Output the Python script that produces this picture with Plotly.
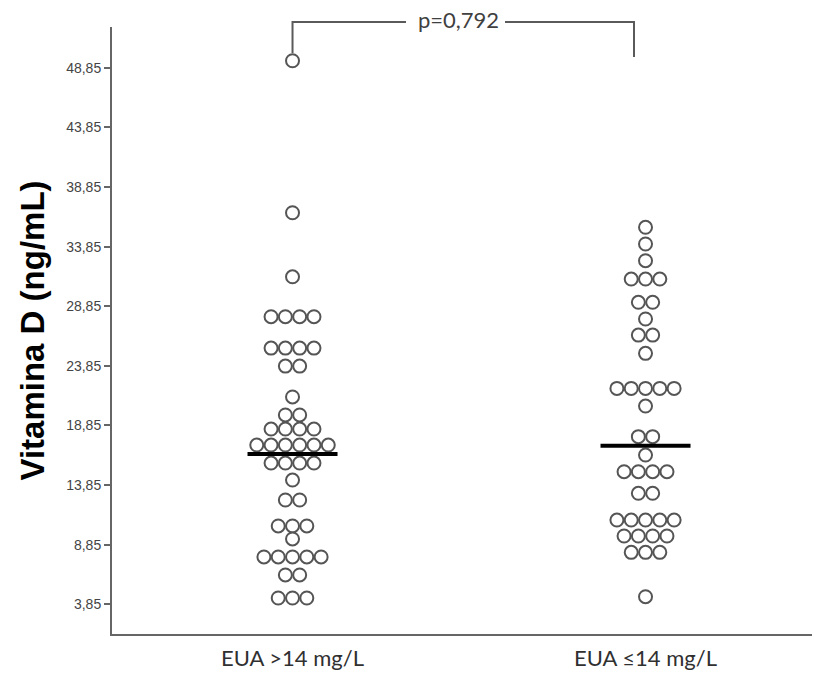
import plotly.graph_objects as go
from collections import Counter

# ---- data ----
categories = ["EUA >14 mg/L", "EUA \u226414 mg/L"]

vitd_high = [49.44, 36.69, 31.32,
             27.97, 27.97, 27.97, 27.97,
             25.34, 25.34, 25.34, 25.34,
             23.83, 23.83,
             21.24,
             19.73, 19.73,
             18.55, 18.55, 18.55, 18.55,
             17.21, 17.21, 17.21, 17.21, 17.21, 17.21,
             15.70, 15.70, 15.70, 15.70,
             14.27,
             12.60, 12.60,
             10.42, 10.42, 10.42,
             9.33,
             7.82, 7.82, 7.82, 7.82, 7.82,
             6.31, 6.31,
             4.38, 4.38, 4.38]

vitd_low = [35.47, 34.07, 32.67,
            31.13, 31.13, 31.13,
            29.18, 29.18,
            27.78,
            26.43, 26.43,
            24.90,
            21.96, 21.96, 21.96, 21.96, 21.96,
            20.48,
            17.91, 17.91,
            16.37,
            14.97, 14.97, 14.97, 14.97,
            13.16, 13.16,
            10.92, 10.92, 10.92, 10.92, 10.92,
            9.58, 9.58, 9.58, 9.58,
            8.21, 8.21, 8.21,
            4.49]

medians = [16.45, 17.15]
y_ticks = [3.85, 8.85, 13.85, 18.85, 23.85, 28.85, 33.85, 38.85, 43.85, 48.85]
p_label = "p=0,792"

# ---- layout constants ----
W, H = 814, 674
M_L, M_R, M_T, M_B = 112, 2, 27, 40
X_RANGE = [0.4886, 2.4716]
Y_RANGE = [1.36, 52.27]
plot_w = W - M_L - M_R
px_per_x = plot_w / (X_RANGE[1] - X_RANGE[0])
DOT_STEP = 14.3 / px_per_x
MED_HALF = 45 / px_per_x


def swarm(values, center):
    counts = Counter(values)
    seen = Counter()
    xs = []
    for v in values:
        n = counts[v]
        i = seen[v]
        seen[v] += 1
        xs.append(center + (i - (n - 1) / 2) * DOT_STEP)
    return xs


fig = go.Figure()
for idx, vals in enumerate([vitd_high, vitd_low]):
    pos = idx + 1
    fig.add_trace(go.Scatter(
        x=swarm(vals, pos), y=vals, mode="markers",
        marker=dict(symbol="circle", size=13, color="white",
                    line=dict(color="#555555", width=2)),
        showlegend=False, hoverinfo="y"))

for idx, m in enumerate(medians):
    pos = idx + 1
    fig.add_trace(go.Scatter(
        x=[pos - MED_HALF, pos + MED_HALF], y=[m, m], mode="lines",
        line=dict(color="black", width=4), showlegend=False, hoverinfo="skip"))

# significance bracket
plot_h = H - M_T - M_B
def py(pix):
    return (H - M_B - pix) / plot_h
def px(pix):
    return X_RANGE[0] + (pix - M_L) / px_per_x

bracket_color = "#5a5a5a"
top = py(22)
fig.add_shape(type="path", xref="x", yref="paper",
              path=f"M 1,{py(53)} L 1,{top} L {px(406)},{top}",
              line=dict(color=bracket_color, width=2))
fig.add_shape(type="path", xref="x", yref="paper",
              path=f"M {px(505)},{top} L {px(634)},{top} L {px(634)},{py(57)}",
              line=dict(color=bracket_color, width=2))
fig.add_annotation(x=px(458), y=py(20), xref="x", yref="paper",
                   text=p_label, showarrow=False,
                   font=dict(family="Lato", size=22, color="#404040"),
                   xanchor="center", yanchor="middle")

fig.update_layout(
    width=W, height=H,
    margin=dict(l=M_L, r=M_R, t=M_T, b=M_B, pad=0),
    plot_bgcolor="white", paper_bgcolor="white",
    separators=",.",
    xaxis=dict(range=X_RANGE, showgrid=False, zeroline=False,
               showline=True, linecolor="#666666", linewidth=2,
               tickvals=[1, 2], ticktext=categories,
               ticks="outside", ticklen=4, tickcolor="rgba(0,0,0,0)",
               tickfont=dict(family="Lato", size=22, color="#303030")),
    yaxis=dict(range=Y_RANGE, showgrid=False, zeroline=False,
               showline=True, linecolor="#666666", linewidth=2,
               tickvals=y_ticks, tickformat=".2f",
               ticks="outside", ticklen=6, tickcolor="#666666", tickwidth=2,
               tickfont=dict(family="Liberation Sans", size=14, color="#444444"),
               title=dict(text="Vitamina D (ng/mL)", standoff=12,
                          font=dict(family="Liberation Sans", size=33,
                                    color="black", weight="bold"))),
)

fig.write_html("out.html",
               config={"displayModeBar": False},
               post_script="document.body.style.margin='0';document.body.style.padding='0';")
